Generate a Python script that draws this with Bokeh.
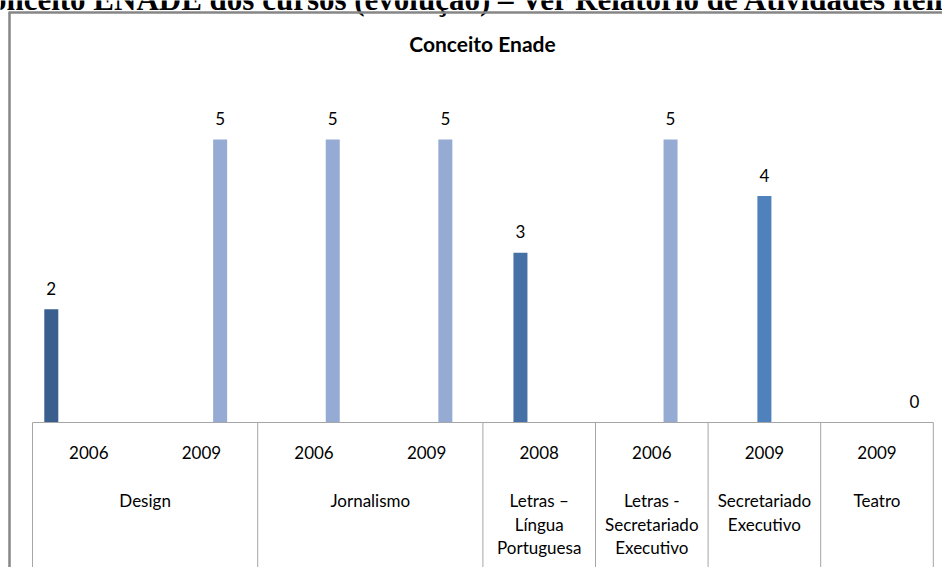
from bokeh.plotting import figure
from bokeh.models import Range1d
from bokeh.core.properties import value
from bokeh.embed import file_html
from bokeh.resources import INLINE

# ---------------- data ----------------
page_heading = "Conceito ENADE dos cursos (evolução) – Ver Relatório de Atividades item"
chart_title = "Conceito Enade"

courses = ["Design", "Jornalismo", "Letras –\nLíngua\nPortuguesa",
           "Letras -\nSecretariado\nExecutivo", "Secretariado\nExecutivo", "Teatro"]
course_years = [2, 2, 1, 1, 1, 1]
years = ["2006", "2009", "2006", "2009", "2008", "2006", "2009", "2009"]

serie1 = [2, None, None, None, None, None, None, None]
serie2 = [None, None, None, None, 3, None, None, None]
serie3 = [None, None, None, None, None, None, 4, None]
serie4 = [None, 5, 5, 5, None, 5, None, None]
serie5 = [None, None, None, None, None, None, None, 0]
series = [serie1, serie2, serie3, serie4, serie5]
colors = ["#3A5F8E", "#4571A6", "#4F81BD", "#95ABD3", "#B9C8E2"]

# ---------------- layout ----------------
OFF = 0            # picture offset of the figure
W, H = 942, 567
X0, S = 32.0, 112.6     # x of first slot edge, slot width in px
Y0, U = 422.0, 56.6     # y of baseline, px per unit
BAR_W = 14.0
DODGE = 18.75


def px2x(X):
    return (X - X0) / S


def px2y(Y):
    return (Y0 - Y) / U


x_range = Range1d(px2x(OFF), px2x(OFF + W))
y_range = Range1d(px2y(OFF + H), px2y(OFF))

p = figure(width=W, height=H, x_range=x_range, y_range=y_range,
           output_backend="svg", toolbar_location=None,
           x_axis_location=None, y_axis_location=None,
           min_border=0, outline_line_color=None)
p.grid.visible = False

FONT = value("Lato")
BORDER = "#868686"
AXIS_C = "#A6A6A6"
FS = value("17px")

# page heading (cut at top, as in reference)
p.text(x=[px2x(-32)], y=[px2y(-1)], text=[page_heading],
       text_font=value("Liberation Serif"), text_font_style="bold",
       text_font_size=value("31px"), text_color="#000000",
       text_align="left", text_baseline="alphabetic")

# outer chart border (top and left)
p.line(x=[px2x(9), px2x(9)], y=[px2y(12), px2y(OFF + H + 5)],
       line_color=BORDER, line_width=2.5)
p.line(x=[px2x(8), px2x(OFF + W + 5)], y=[px2y(12), px2y(12)],
       line_color=BORDER, line_width=2.5)

# chart title
p.text(x=[px2x(482)], y=[px2y(43)], text=[chart_title], text_font=FONT,
       text_font_style="bold", text_font_size=value("21px"),
       text_color="#000000", text_align="center", text_baseline="middle")

n = len(years)

# bars and data labels
for k, (vals, col) in enumerate(zip(series, colors)):
    off = (k - (len(series) - 1) / 2) * DODGE / S
    xs = [i + 0.5 + off for i, v in enumerate(vals) if v is not None]
    ys = [v for v in vals if v is not None]
    p.vbar(x=xs, top=ys, bottom=0, width=BAR_W / S, fill_color=col, line_color=None)
    p.text(x=xs, y=[v + 21 / U for v in ys], text=[str(v) for v in ys],
           text_font=FONT, text_font_size=FS, text_color="#000000",
           text_align="center", text_baseline="middle")

# category axis box
bounds = [0]
for c in course_years:
    bounds.append(bounds[-1] + c)
p.segment(x0=[0], y0=[0], x1=[n], y1=[0], line_color=AXIS_C, line_width=1)
p.segment(x0=bounds, y0=[0] * len(bounds), x1=bounds,
          y1=[px2y(OFF + H + 5)] * len(bounds), line_color=AXIS_C, line_width=1)

# year labels
p.text(x=[i + 0.5 for i in range(n)], y=[px2y(452)] * n, text=years,
       text_font=FONT, text_font_size=FS, text_color="#000000",
       text_align="center", text_baseline="middle")

# course labels
cx, cy, ct = [], [], []
for ci, name in enumerate(courses):
    center = (bounds[ci] + bounds[ci + 1]) / 2
    for j, line in enumerate(name.split("\n")):
        cx.append(center)
        cy.append(px2y(500 + 23.5 * j))
        ct.append(line)
p.text(x=cx, y=cy, text=ct, text_font=FONT, text_font_size=FS,
       text_color="#000000", text_align="center", text_baseline="middle")

open("out.html", "w").write(file_html(p, INLINE))
